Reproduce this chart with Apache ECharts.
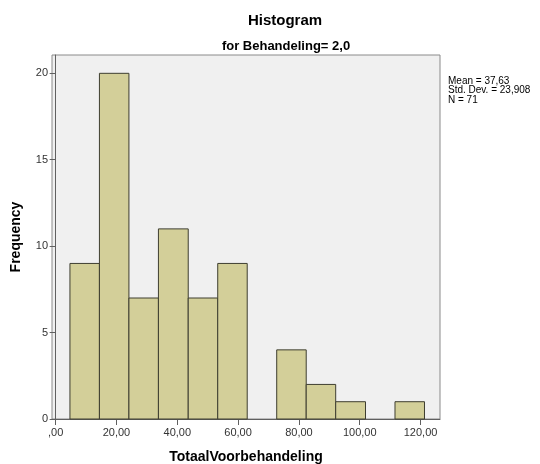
<!DOCTYPE html>
<html>
<head>
<meta charset="utf-8">
<script src="https://cdn.jsdelivr.net/npm/echarts@6/dist/echarts.min.js"></script>
<style>
  html, body { margin: 0; padding: 0; background: #fff; }
  #chart { width: 540px; height: 464px; }
</style>
</head>
<body>
<div id="chart"></div>
<script>
// histogram bins (edges) and frequencies
var binEdges = [4.7, 14.4, 24.1, 33.8, 43.6, 53.3, 63.0, 72.7, 82.4, 92.1, 101.9, 111.6, 121.3];
var counts = [9, 20, 7, 11, 7, 9, 0, 4, 2, 1, 0, 1];
var xTicks = [0, 20, 40, 60, 80, 100, 120];
var yTicks = [0, 5, 10, 15, 20];
var statLines = ['Mean = 37,63', 'Std. Dev. = 23,908', 'N = 71'];

var barData = counts.map(function (c, i) {
  return [binEdges[i], binEdges[i + 1], c];
});

var chart = echarts.init(document.getElementById('chart'));
chart.setOption({
  animation: false,
  title: [
    {
      text: 'Histogram',
      left: 280, top: 8, textAlign: 'center',
      textStyle: { fontFamily: 'Arial, Liberation Sans', fontSize: 15, fontWeight: 'bold', color: '#000' }
    },
    {
      text: 'for Behandeling= 2,0',
      left: 281, top: 35, textAlign: 'center',
      textStyle: { fontFamily: 'Liberation Sans Narrow, Arial Narrow, Liberation Sans', fontSize: 13, fontWeight: 'bold', color: '#000' }
    }
  ],
  grid: {
    left: 52, right: 100, top: 55, bottom: 45,
    outerBoundsMode: 'none',
    show: true,
    backgroundColor: '#f0f0f0',
    borderColor: '#8a8a8a',
    borderWidth: 1
  },
  xAxis: {
    type: 'value',
    min: -1.2,
    max: 126.4,
    name: 'TotaalVoorbehandeling',
    nameLocation: 'middle',
    nameGap: 31,
    nameTextStyle: { fontFamily: 'Arial, Liberation Sans', fontSize: 14, fontWeight: 'bold', color: '#000' },
    splitLine: { show: false },
    axisLine: { show: true, lineStyle: { color: '#606060' } },
    axisTick: { show: true, length: 6, customValues: xTicks, lineStyle: { color: '#606060' } },
    axisLabel: {
      customValues: xTicks,
      fontFamily: 'Arial, Liberation Sans', fontSize: 11, color: '#333',
      formatter: function (v) { return v === 0 ? ',00' : v + ',00'; }
    }
  },
  yAxis: {
    type: 'value',
    min: 0,
    max: 21.06,
    name: 'Frequency',
    nameLocation: 'middle',
    nameGap: 29,
    nameTextStyle: { fontFamily: 'Arial, Liberation Sans', fontSize: 14, fontWeight: 'bold', color: '#000' },
    splitLine: { show: false },
    axisLine: { show: true, lineStyle: { color: '#606060' } },
    axisTick: { show: true, length: 6, customValues: yTicks, lineStyle: { color: '#606060' } },
    axisLabel: {
      customValues: yTicks,
      fontFamily: 'Arial, Liberation Sans', fontSize: 11, color: '#333',
      margin: 4
    }
  },
  graphic: [
    {
      type: 'text',
      left: 448, top: 76,
      style: {
        text: statLines.join('\n'),
        fontFamily: 'Arial, Liberation Sans', fontSize: 10, lineHeight: 9.5, fill: '#000'
      }
    }
  ],
  series: [
    {
      type: 'custom',
      data: barData,
      encode: { x: [0, 1], y: 2 },
      renderItem: function (params, api) {
        var h = api.value(2);
        if (!h) return;
        var p0 = api.coord([api.value(0), 0]);
        var p1 = api.coord([api.value(1), h]);
        return {
          type: 'rect',
          shape: { x: p0[0], y: p1[1], width: p1[0] - p0[0], height: p0[1] - p1[1] },
          style: { fill: '#d3cf99', stroke: '#3e3e30', lineWidth: 1 }
        };
      }
    }
  ]
});
</script>
</body>
</html>
